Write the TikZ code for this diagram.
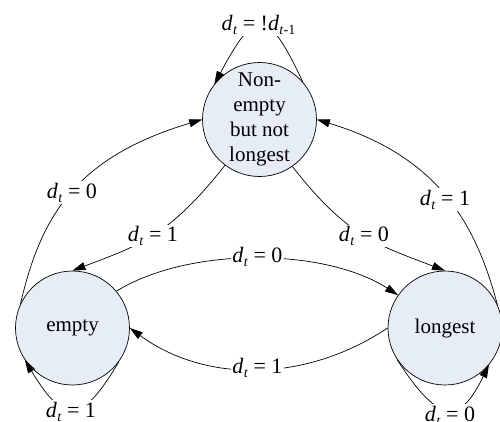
\documentclass[tikz,border=0pt]{standalone}
\usepackage{fontspec}
\setmainfont{Liberation Serif}
\newfontfamily\tms{Liberation Serif}
\usetikzlibrary{arrows.meta}
\definecolor{statefill}{RGB}{231,237,247}
\newcommand{\sbt}[1]{\raisebox{-0.4ex}{\fontsize{14}{14}\selectfont #1}}
\newcommand{\lab}[1]{\textit{d}\kern0.4pt\sbt{\textit{t}}\ =\ #1}
\begin{document}
\begin{tikzpicture}[x=1pt,y=-1pt,
  state/.style={circle,draw,fill=statefill,minimum size=114pt,inner sep=0pt,line width=0.7pt},
  stxt/.style={align=center,inner sep=0pt,font=\tms\fontsize{21}{25}\selectfont},
  edge/.style={line width=0.7pt,-{Triangle[length=13pt,width=8pt]}},
  lbl/.style={fill=white,inner sep=1.5pt,font=\tms\fontsize{22}{25}\selectfont}]
\useasboundingbox (0,0) rectangle (500,421);

% states
\node[state] (top) at (259.5,119.5) {};
\node[stxt] (toptext) at (top) {Non-\\empty\\but not\\longest};
\node[state,stxt] (empty) at (72.5,328) {empty};
\node[state,stxt] (longest) at (445,328) {longest};

% connectors
\draw[edge] (top.41) .. controls (266.8,5.5) and (255.4,7.9) .. (top.142);
\draw[edge] (top.-127) .. controls (168.8,236.3) and (140,245) .. (empty.north);
\draw[edge] (top.-55) .. controls (346.7,236.3) and (377.5,245) .. (longest.north);
\draw[edge] (empty.155) .. controls (41.2,214) and (77.7,156.8) .. (top.west);
\draw[edge] (longest.24) .. controls (476,225) and (439.8,156.8) .. (top.east);
\draw[edge] (empty.40) .. controls (190,246) and (325,248) .. (longest.145);
\draw[edge] (longest.west) .. controls (305,383) and (205,383) .. (empty.east);
\draw[edge] (empty.-36) .. controls (83,422) and (65,427) .. (empty.-146);
\draw[edge] (longest.-146) .. controls (441,428) and (461,422) .. (longest.-40);

% labels
\node[lbl] (ltop) at (258.5,24.5) {\textit{d}\kern0.4pt\sbt{\textit{t}}\ =\ !\textit{d}\kern0.4pt\sbt{\textit{t}-1}};
\node[lbl] (lte) at (153,236) {\lab{1}};
\node[lbl] (ltl) at (364,236) {\lab{0}};
\node[lbl] (let) at (72,192.5) {\lab{0}};
\node[lbl] (llt) at (445,199.5) {\lab{1}};
\node[lbl] (lel) at (257.5,257) {\lab{0}};
\node[lbl] (lle) at (257.5,367.5) {\lab{1}};
\node[lbl] (lee) at (71,411.5) {\lab{1}};
\node[lbl] (lll) at (450,415.5) {\lab{0}};
\end{tikzpicture}
\end{document}
